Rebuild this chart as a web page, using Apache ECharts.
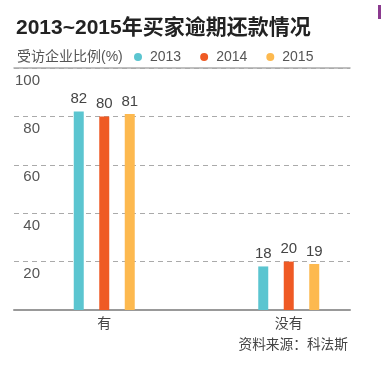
<!DOCTYPE html>
<html>
<head>
<meta charset="utf-8">
<script src="https://cdn.jsdelivr.net/npm/echarts@6/dist/echarts.min.js"></script>
<style>
html,body{margin:0;padding:0;background:#fff;}
#chart{width:381px;height:369px;}
</style>
</head>
<body>
<div id="chart"></div>
<script>
var categories = ['有', '没有'];
var seriesNames = ['2013', '2014', '2015'];
var values2013 = [82, 18];
var values2014 = [80, 20];
var values2015 = [81, 19];
var colors = ['#5BC5D0', '#EF5A24', '#FDB94F'];
var yTicks = { min: 0, max: 100, interval: 20 };

var FONT = "'Liberation Sans', 'Noto Sans CJK SC', sans-serif";
var chart = echarts.init(document.getElementById('chart'), null, { renderer: 'canvas' });

function barSeries(name, data, color) {
  return {
    name: name,
    type: 'bar',
    xAxisIndex: 2,
    yAxisIndex: 1,
    data: data,
    barWidth: 10,
    barGap: '155%',
    itemStyle: { color: color },
    label: {
      show: true,
      position: 'top',
      distance: 5,
      fontSize: 15,
      fontFamily: FONT,
      color: '#444'
    }
  };
}

var option = {
  animation: false,
  backgroundColor: '#fff',
  title: [
    {
      text: '2013~2015年买家逾期还款情况',
      left: 16, top: 18, padding: 0,
      textStyle: { fontSize: 21, fontWeight: 'bold', color: '#222', fontFamily: FONT }
    },
    {
      text: '受访企业比例(%)',
      left: 17, top: 50, padding: 0,
      textStyle: { fontSize: 14, fontWeight: 'normal', color: '#555', fontFamily: FONT }
    },
    {
      text: '资料来源：科法斯',
      right: 33, top: 338, padding: 0,
      textStyle: { fontSize: 13.7, fontWeight: 'normal', color: '#444', fontFamily: FONT }
    }
  ],
  legend: {
    data: seriesNames,
    left: 134, top: 50, padding: 0,
    icon: 'circle', itemWidth: 8, itemHeight: 8, itemGap: 19,
    textStyle: { fontSize: 14, color: '#555', fontFamily: FONT, padding: [0, 0, 0, 3] }
  },
  grid: [
    { left: 14, right: 31, top: 68, bottom: 59 },
    { left: 12, right: 0, top: 68, bottom: 59 }
  ],
  xAxis: [
    {
      type: 'category', gridIndex: 0, position: 'bottom', data: categories,
      axisLine: { show: true, lineStyle: { color: '#999', width: 2 } },
      axisTick: { show: false }, axisLabel: { show: false }, splitLine: { show: false }
    },
    {
      type: 'category', gridIndex: 0, position: 'top', data: categories,
      axisLine: { show: true, lineStyle: { color: '#aaa', width: 1.5 } },
      axisTick: { show: false }, axisLabel: { show: false }, splitLine: { show: false }
    },
    {
      type: 'category', gridIndex: 1, position: 'bottom', data: categories,
      axisLine: { show: false }, axisTick: { show: false },
      axisLabel: { margin: 7, fontSize: 14, color: '#444', fontFamily: FONT }
    }
  ],
  yAxis: [
    {
      type: 'value', gridIndex: 0, min: yTicks.min, max: yTicks.max, interval: yTicks.interval,
      axisLine: { show: false }, axisTick: { show: false },
      axisLabel: {
        inside: true, align: 'right', margin: 26, verticalAlign: 'top',
        padding: [5, 0, 0, 0], showMinLabel: false,
        fontSize: 15, color: '#555', fontFamily: FONT
      },
      splitLine: { show: true, lineStyle: { color: '#aaa', type: [5, 4], width: 1 } }
    },
    {
      type: 'value', gridIndex: 1, min: yTicks.min, max: yTicks.max, interval: yTicks.interval,
      show: false
    }
  ],
  graphic: [
    { type: 'rect', right: 0, top: 5, shape: { width: 3, height: 14 }, style: { fill: '#8B3A8F' } }
  ],
  series: [
    barSeries(seriesNames[0], values2013, colors[0]),
    barSeries(seriesNames[1], values2014, colors[1]),
    barSeries(seriesNames[2], values2015, colors[2])
  ]
};
chart.setOption(option);
</script>
</body>
</html>
